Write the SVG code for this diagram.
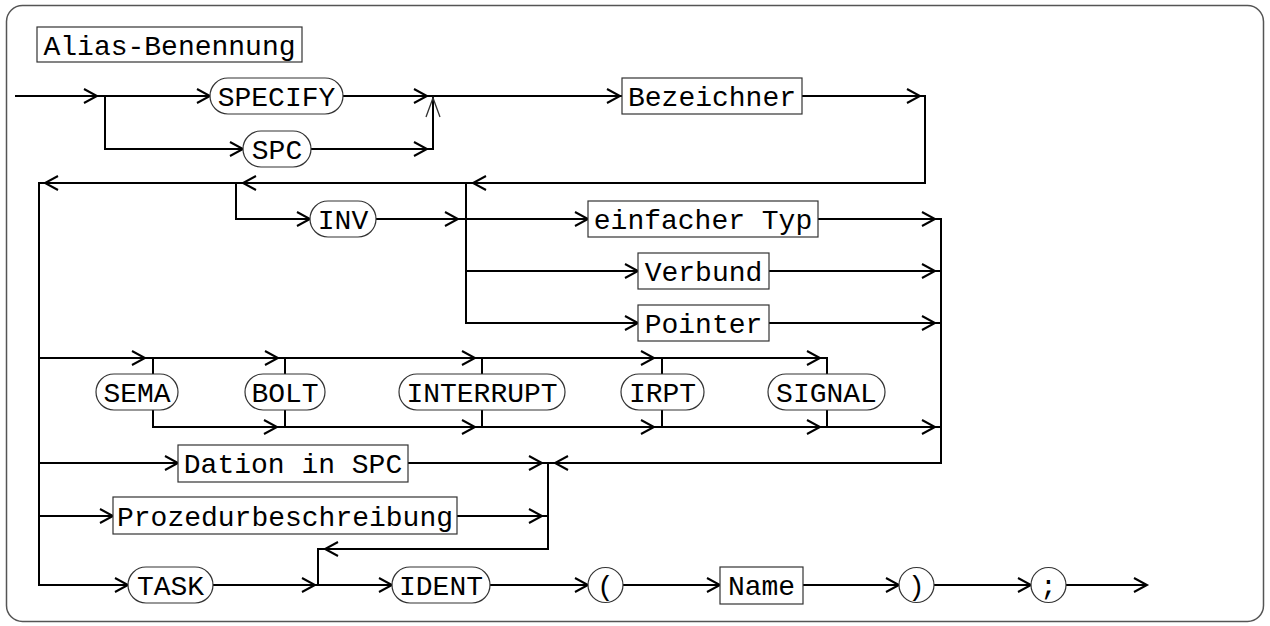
<svg xmlns="http://www.w3.org/2000/svg" xmlns:xlink="http://www.w3.org/1999/xlink" width="1270" height="626" viewBox="0 0 1270 626">
<style>
.t{font-family:"Liberation Mono","DejaVu Sans Mono",monospace;font-size:28px;fill:#000;text-anchor:middle}
.b{fill:#fff;stroke:#333;stroke-width:1.2}
.c{fill:none;stroke:#000;stroke-width:2}
.a{fill:none;stroke:#000;stroke-width:2}
</style>
<defs>
<path id="ar" class="a" d="M-13,-7 L0,0 L-13,7"/>
<path id="al" class="a" d="M13,-7 L0,0 L13,7"/>
<path id="au" d="M-7,19 L0,0 L7,19" fill="none" stroke="#333" stroke-width="1.3"/>
</defs>
<rect x="6.5" y="5.5" width="1257" height="616" rx="16" fill="#fff" stroke="#555" stroke-width="1.5"/>
<g id="title"><rect class="b" x="37" y="27" width="265" height="35"/><text class="t" x="169.5" y="54.5">Alias-Benennung</text></g>
<g id="connectors">
<path class="c" d="M15,96 H210 M105,96 V149 H243 M343,96 H622 M311,149 H433 V96"/>
<path class="c" d="M802,96 H925 V183 H39 V585 H128 M39,358 H827 V374 M39,463 H178 M39,516 H113"/>
<path class="c" d="M236,183 V219 H310 M376,219 H588 M466,183 V323 H638 M466,271 H638"/>
<path class="c" d="M818,219 H941 V463 H548 V549 H318 V585 M769,271 H941 M769,323 H941"/>
<path class="c" d="M153,358 V374 M285,358 V374 M482,358 V374 M662,358 V374 M153,410 V427 H941 M285,410 V427 M482,410 V427 M662,410 V427 M827,410 V427"/>
<path class="c" d="M408,463 H548 M457,516 H548 M213,585 H392 M490,585 H588 M623,585 H720 M803,585 H899 M934,585 H1031 M1066,585 H1147"/>
<use xlink:href="#ar" x="97" y="96"/><use xlink:href="#ar" x="210" y="96"/><use xlink:href="#ar" x="243" y="149"/>
<use xlink:href="#ar" x="427" y="96"/><use xlink:href="#ar" x="427" y="149"/><use xlink:href="#ar" x="620" y="96"/>
<use xlink:href="#ar" x="920" y="96"/><use xlink:href="#ar" x="310" y="219"/><use xlink:href="#ar" x="458" y="219"/>
<use xlink:href="#ar" x="588" y="219"/><use xlink:href="#ar" x="935" y="219"/><use xlink:href="#ar" x="638" y="271"/>
<use xlink:href="#ar" x="935" y="271"/><use xlink:href="#ar" x="638" y="323"/><use xlink:href="#ar" x="935" y="323"/>
<use xlink:href="#ar" x="145" y="358"/><use xlink:href="#ar" x="278" y="358"/><use xlink:href="#ar" x="475" y="358"/>
<use xlink:href="#ar" x="654" y="358"/><use xlink:href="#ar" x="820" y="358"/><use xlink:href="#ar" x="277" y="427"/>
<use xlink:href="#ar" x="475" y="427"/><use xlink:href="#ar" x="654" y="427"/><use xlink:href="#ar" x="820" y="427"/>
<use xlink:href="#ar" x="935" y="427"/><use xlink:href="#ar" x="178" y="463"/><use xlink:href="#ar" x="542" y="463"/>
<use xlink:href="#ar" x="113" y="516"/><use xlink:href="#ar" x="542" y="516"/><use xlink:href="#ar" x="128" y="585"/>
<use xlink:href="#ar" x="315" y="585"/><use xlink:href="#ar" x="392" y="585"/><use xlink:href="#ar" x="588" y="585"/>
<use xlink:href="#ar" x="720" y="585"/><use xlink:href="#ar" x="899" y="585"/><use xlink:href="#ar" x="1031" y="585"/>
<use xlink:href="#ar" x="1147" y="585"/>
<use xlink:href="#al" x="473" y="183"/><use xlink:href="#al" x="243" y="183"/><use xlink:href="#al" x="45" y="183"/>
<use xlink:href="#al" x="555" y="463"/><use xlink:href="#al" x="325" y="549"/>
<use xlink:href="#au" x="433" y="98"/>
</g>
<g id="specify"><rect class="b" x="210" y="78" width="133" height="36" rx="18"/><text class="t" x="276.5" y="105.5">SPECIFY</text></g>
<g id="spc"><rect class="b" x="243" y="131" width="68" height="36" rx="18"/><text class="t" x="277" y="158.5">SPC</text></g>
<g id="bezeichner"><rect class="b" x="622" y="78" width="180" height="36"/><text class="t" x="712" y="105.5">Bezeichner</text></g>
<g id="inv"><rect class="b" x="310" y="201" width="66" height="36" rx="18"/><text class="t" x="343" y="228.5">INV</text></g>
<g id="einfacher-typ"><rect class="b" x="588" y="201" width="230" height="36"/><text class="t" x="703" y="228.5">einfacher Typ</text></g>
<g id="verbund"><rect class="b" x="638" y="253" width="131" height="36"/><text class="t" x="703.5" y="280.5">Verbund</text></g>
<g id="pointer"><rect class="b" x="638" y="305" width="131" height="36"/><text class="t" x="703.5" y="332.5">Pointer</text></g>
<g id="sema"><rect class="b" x="96" y="374" width="82" height="36" rx="18"/><text class="t" x="137" y="401.5">SEMA</text></g>
<g id="bolt"><rect class="b" x="245" y="374" width="80" height="36" rx="18"/><text class="t" x="285" y="401.5">BOLT</text></g>
<g id="interrupt"><rect class="b" x="399" y="374" width="166" height="36" rx="18"/><text class="t" x="482" y="401.5">INTERRUPT</text></g>
<g id="irpt"><rect class="b" x="621" y="374" width="83" height="36" rx="18"/><text class="t" x="662.5" y="401.5">IRPT</text></g>
<g id="signal"><rect class="b" x="768" y="374" width="117" height="36" rx="18"/><text class="t" x="826.5" y="401.5">SIGNAL</text></g>
<g id="dation"><rect class="b" x="178" y="445" width="230" height="37"/><text class="t" x="293" y="472.5">Dation in SPC</text></g>
<g id="prozedur"><rect class="b" x="113" y="497" width="344" height="37"/><text class="t" x="285" y="525.5">Prozedurbeschreibung</text></g>
<g id="task"><rect class="b" x="128" y="567" width="85" height="36" rx="18"/><text class="t" x="170.5" y="594.5">TASK</text></g>
<g id="ident"><rect class="b" x="392" y="567" width="98" height="36" rx="18"/><text class="t" x="441" y="594.5">IDENT</text></g>
<g id="lparen"><circle class="b" cx="605.5" cy="585" r="17.5"/><text class="t" x="605.5" y="594.5">(</text></g>
<g id="name"><rect class="b" x="720" y="567" width="83" height="37"/><text class="t" x="761.5" y="594.5">Name</text></g>
<g id="rparen"><circle class="b" cx="916.5" cy="585" r="17.5"/><text class="t" x="916.5" y="594.5">)</text></g>
<g id="semicolon"><circle class="b" cx="1048.5" cy="585" r="17.5"/><text class="t" x="1048.5" y="594.5">;</text></g>
</svg>
